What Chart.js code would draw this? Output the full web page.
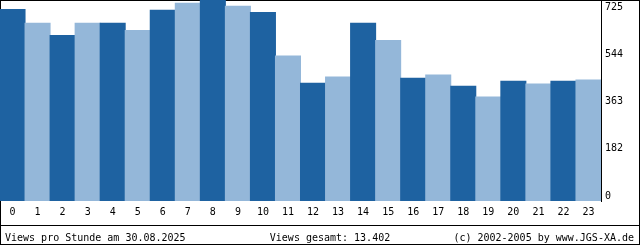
<!DOCTYPE html>
<html>
<head>
<meta charset="utf-8">
<script src="https://cdn.jsdelivr.net/npm/chart.js@4/dist/chart.umd.min.js"></script>
<style>
  body { margin: 0; background: #fff; }
  canvas { display: block; }
</style>
</head>
<body>
<canvas id="chart" width="640" height="245"></canvas>
<script>
// Stunden und Views pro Stunde
const hours = ['0','1','2','3','4','5','6','7','8','9','10','11','12','13','14','15','16','17','18','19','20','21','22','23']
const views = [693, 643, 599, 643, 643, 617, 690, 715, 725, 704, 682, 525,
               427, 449, 643, 581, 445, 456, 416, 377, 434, 424, 434, 438]
const yTickLabels = ['0', '182', '363', '544', '725']
const yMax = 725

const footerLeft = 'Views pro Stunde am 30.08.2025'
const footerCenter = 'Views gesamt: 13.402'
const footerRight = '(c) 2002-2005 by www.JGS-XA.de'

const DARK = '#1e62a1'
const LIGHT = '#94b7d9'
const FONT = '"DejaVu Sans Mono", "Liberation Mono", monospace'

// Rahmen + Fusszeile
const framePlugin = {
  id: 'frame',
  beforeDraw(chart) {
    const ctx = chart.ctx
    ctx.save()
    ctx.fillStyle = '#fff'
    ctx.fillRect(0, 0, chart.width, chart.height)
    ctx.strokeStyle = '#000'
    ctx.lineWidth = 1
    ctx.strokeRect(0.5, 0.5, chart.width - 1, chart.height - 1)
    ctx.beginPath()
    ctx.moveTo(0, 225.5)
    ctx.lineTo(chart.width, 225.5)
    ctx.stroke()
    ctx.restore()
  },
  afterDraw(chart) {
    const ctx = chart.ctx
    ctx.save()
    ctx.fillStyle = '#000'
    ctx.font = '10px ' + FONT
    ctx.textBaseline = 'alphabetic'
    ctx.textAlign = 'left'
    ctx.fillText(footerLeft, 5, 241)
    ctx.textAlign = 'center'
    ctx.fillText(footerCenter, 330, 241)
    ctx.textAlign = 'right'
    ctx.fillText(footerRight, 634, 241)
    ctx.restore()
  }
}

new Chart(document.getElementById('chart'), {
  type: 'bar',
  data: {
    labels: hours,
    datasets: [{
      data: views,
      backgroundColor: views.map((v, i) => i % 2 === 0 ? DARK : LIGHT),
      borderWidth: 0,
      categoryPercentage: 1,
      barPercentage: 1.04,
      yAxisID: 'y'
    }]
  },
  options: {
    responsive: false,
    animation: false,
    layout: { autoPadding: false, padding: { top: 0, left: 0, right: 0, bottom: 20 } },
    plugins: {
      legend: { display: false },
      tooltip: { enabled: false }
    },
    scales: {
      x: {
        grid: { display: false, drawTicks: false },
        border: { display: false },
        ticks: { color: '#000', font: { family: FONT, size: 10 }, padding: 5, maxRotation: 0, autoSkip: false },
        afterFit(scale) { scale.height = 24 }
      },
      y: {
        display: false,
        min: 0,
        max: yMax
      },
      yl: {
        position: 'right',
        weight: 1,
        // Beschriftung sitzt leicht versetzt zu den Werten
        min: -19.2,
        max: 751.9,
        grid: { display: false, drawTicks: true, tickLength: 4 },
        border: { display: true, color: '#000', width: 1 },
        ticks: {
          color: '#000',
          font: { family: FONT, size: 10, lineHeight: 0.01 },
          padding: 0,
          callback: (v, i) => yTickLabels[i]
        },
        afterBuildTicks(scale) {
          scale.ticks = yTickLabels.map((t, i) => ({ value: yMax * i / (yTickLabels.length - 1) }))
        },
        afterFit(scale) { scale.width = 39 }
      }
    }
  },
  plugins: [framePlugin]
})
</script>
</body>
</html>
